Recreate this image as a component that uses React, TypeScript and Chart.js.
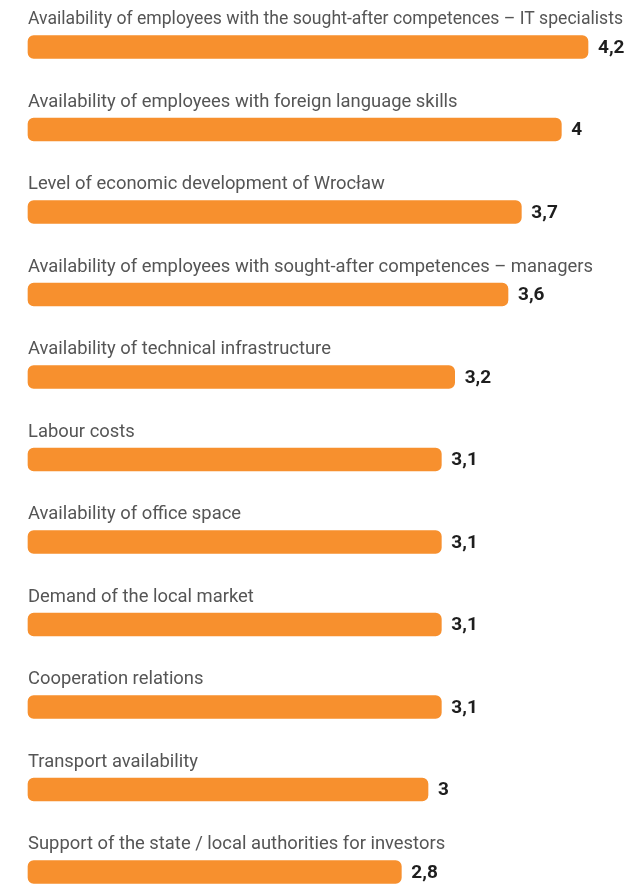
import React, { useEffect, useRef } from "react";
import { Chart, registerables } from "chart.js";

Chart.register(...registerables);

const categories = [
  "Availability of employees with the sought-after competences – IT specialists",
  "Availability of employees with foreign language skills",
  "Level of economic development of Wrocław",
  "Availability of employees with sought-after competences – managers",
  "Availability of technical infrastructure",
  "Labour costs",
  "Availability of office space",
  "Demand of the local market",
  "Cooperation relations",
  "Transport availability",
  "Support of the state / local authorities for investors",
];

const values = [4.2, 4, 3.7, 3.6, 3.2, 3.1, 3.1, 3.1, 3.1, 3, 2.8];

const valueLabels = ["4,2", "4", "3,7", "3,6", "3,2", "3,1", "3,1", "3,1", "3,1", "3", "2,8"];

const labelPlugin = {
  id: "barLabels",
  afterDatasetsDraw(chart: any) {
    const ctx = chart.ctx;
    const meta = chart.getDatasetMeta(0);
    const left = chart.chartArea.left;
    ctx.save();
    meta.data.forEach((bar: any, i: number) => {
      ctx.font = "18.4px Roboto";
      ctx.fillStyle = "#555555";
      ctx.textAlign = "left";
      ctx.textBaseline = "alphabetic";
      ctx.fillText(categories[i], left, bar.y - 23, 595);
      ctx.font = "bold 19px Roboto";
      ctx.fillStyle = "#1e1e1e";
      ctx.textBaseline = "middle";
      ctx.fillText(valueLabels[i], bar.x + 10, bar.y + 1);
    });
    ctx.restore();
  },
};

export default function App() {
  const ref = useRef<HTMLCanvasElement>(null);
  useEffect(() => {
    if (!ref.current) return;
    const chart = new Chart(ref.current, {
      type: "bar",
      data: {
        labels: categories,
        datasets: [
          {
            data: values,
            backgroundColor: "#F7902E",
            borderRadius: 6,
            borderSkipped: false,
            barThickness: 23,
            clip: false as any,
          },
        ],
      },
      options: {
        indexAxis: "y",
        animation: false,
        responsive: false,
        layout: { padding: { left: 28, right: 5, top: 47, bottom: 13 } },
        plugins: { legend: { display: false }, tooltip: { enabled: false } },
        scales: {
          x: { display: false, min: 0, max: 4.5 },
          y: { display: false, offset: false },
        },
      },
      plugins: [labelPlugin],
    });
    return () => chart.destroy();
  }, []);
  return (
    <div style={{ position: "absolute", left: 0, top: 0, width: 633, height: 885, background: "#fff" }}>
      <canvas ref={ref} width={633} height={885} />
    </div>
  );
}
